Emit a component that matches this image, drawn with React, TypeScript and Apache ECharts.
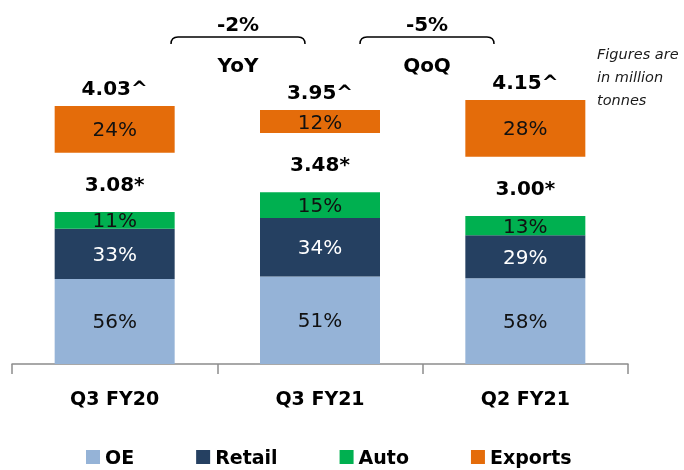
import React, { useEffect, useRef } from "react";
import * as echarts from "echarts";

const categories = ["Q3 FY20", "Q3 FY21", "Q2 FY21"];
const domesticTotals = [3.08, 3.48, 3.0];
const overallTotals = [4.03, 3.95, 4.15];
const oePct = [56, 51, 58];
const retailPct = [33, 34, 29];
const autoPct = [11, 15, 13];
const exportsPct = [24, 12, 28];
const changeValues = ["-2%", "-5%"];
const changeNames = ["YoY", "QoQ"];
const seriesNames = ["OE", "Retail", "Auto", "Exports"];
const GAP = 1.2;

const FONT = "DejaVu Sans";

const oeVals = domesticTotals.map((t, i) => +(t * oePct[i] / 100).toFixed(3));
const retailVals = domesticTotals.map((t, i) => +(t * retailPct[i] / 100).toFixed(3));
const autoVals = domesticTotals.map((t, i) => +(t * autoPct[i] / 100).toFixed(3));
const gapVals = domesticTotals.map(() => GAP);
const exportVals = overallTotals.map((t, i) => +(t - domesticTotals[i]).toFixed(3));

echarts.graphic.registerShape(
  "brace",
  echarts.graphic.extendPath("M0,7 Q0,0 7,0 L127,0 Q134,0 134,7", {}) as any
);

function pctLabel(arr: number[], color: string) {
  return {
    show: true,
    position: "inside",
    color,
    fontFamily: FONT,
    fontSize: 20,
    formatter: (p: any) => `${arr[p.dataIndex]}%`,
  };
}

export default function App() {
  const ref = useRef<HTMLDivElement>(null);
  useEffect(() => {
    if (!ref.current) return;
    const chart = echarts.init(ref.current, undefined, { renderer: "svg" });
    const braceX = [171, 360];
    const graphics: any[] = [];
    changeValues.forEach((v, i) => {
      const cx = braceX[i] + 67;
      graphics.push({
        type: "brace",
        x: braceX[i],
        y: 37,
        shape: {},
        style: { stroke: "#000", fill: "none", lineWidth: 1.5 },
      });
      graphics.push({
        type: "text",
        x: cx,
        y: 24,
        style: {
          text: v,
          fontFamily: FONT,
          fontWeight: "bold",
          fontSize: 20,
          fill: "#000",
          align: "center",
          verticalAlign: "middle",
        },
      });
      graphics.push({
        type: "text",
        x: cx,
        y: 65,
        style: {
          text: changeNames[i],
          fontFamily: FONT,
          fontWeight: "bold",
          fontSize: 20,
          fill: "#000",
          align: "center",
          verticalAlign: "middle",
        },
      });
    });
    graphics.push({
      type: "text",
      x: 597,
      y: 42,
      style: {
        text: "Figures are\nin million\ntonnes",
        fontFamily: FONT,
        fontStyle: "italic",
        fontSize: 14.5,
        lineHeight: 23,
        fill: "#1a1a1a",
        align: "left",
        verticalAlign: "top",
      },
    });

    const totalLabel = (arr: number[], suffix: string, distance: number) => ({
      show: true,
      position: "top",
      distance,
      fontFamily: FONT,
      fontWeight: "bold",
      fontSize: 20,
      color: "#000",
      formatter: (p: any) => `${arr[p.dataIndex].toFixed(2)}${suffix}`,
    });

    chart.setOption({
      animation: false,
      grid: { left: 12, right: 56, bottom: 106, top: 68, containLabel: false },
      legend: {
        data: seriesNames,
        left: 84,
        top: 444,
        padding: 2,
        icon: "rect",
        itemWidth: 14,
        itemHeight: 14,
        itemGap: 62,
        textStyle: {
          fontFamily: FONT,
          fontWeight: "bold",
          fontSize: 19,
          lineHeight: 22,
          color: "#000",
        },
      },
      xAxis: {
        type: "category",
        data: categories,
        axisLine: { lineStyle: { color: "#8c8c8c", width: 1.5 } },
        axisTick: { show: true, length: 10, lineStyle: { color: "#8c8c8c", width: 1.5 } },
        axisLabel: {
          margin: 24,
          fontFamily: FONT,
          fontWeight: "bold",
          fontSize: 19,
          color: "#000",
        },
      },
      yAxis: { type: "value", min: 0, max: 6, show: false },
      series: [
        {
          name: "OE",
          type: "bar",
          stack: "a",
          barWidth: 120,
          data: oeVals,
          itemStyle: { color: "#95B3D7" },
          label: pctLabel(oePct, "#111"),
        },
        {
          name: "Retail",
          type: "bar",
          stack: "a",
          data: retailVals,
          itemStyle: { color: "#254061" },
          label: pctLabel(retailPct, "#fff"),
        },
        {
          name: "Auto",
          type: "bar",
          stack: "a",
          data: autoVals,
          itemStyle: { color: "#00B050" },
          label: pctLabel(autoPct, "#111"),
        },
        {
          name: "gap",
          type: "bar",
          stack: "a",
          data: gapVals,
          silent: true,
          itemStyle: { color: "rgba(0,0,0,0)" },
          label: { show: false },
        },
        {
          name: "Exports",
          type: "bar",
          stack: "a",
          data: exportVals,
          itemStyle: { color: "#E46C0A" },
          label: pctLabel(exportsPct, "#111"),
        },
        {
          name: "domesticTotal",
          type: "scatter",
          symbolSize: 0,
          data: domesticTotals,
          silent: true,
          itemStyle: { opacity: 1 },
          label: totalLabel(domesticTotals, "*", 18),
        },
        {
          name: "overallTotal",
          type: "scatter",
          symbolSize: 0,
          data: overallTotals.map((t) => t + GAP),
          silent: true,
          itemStyle: { opacity: 1 },
          label: totalLabel(overallTotals, "^", 8),
        },
      ],
      graphic: graphics,
    });
    return () => chart.dispose();
  }, []);
  return (
    <div
      ref={ref}
      style={{ position: "fixed", left: 0, top: 0, width: 684, height: 470 }}
    />
  );
}
